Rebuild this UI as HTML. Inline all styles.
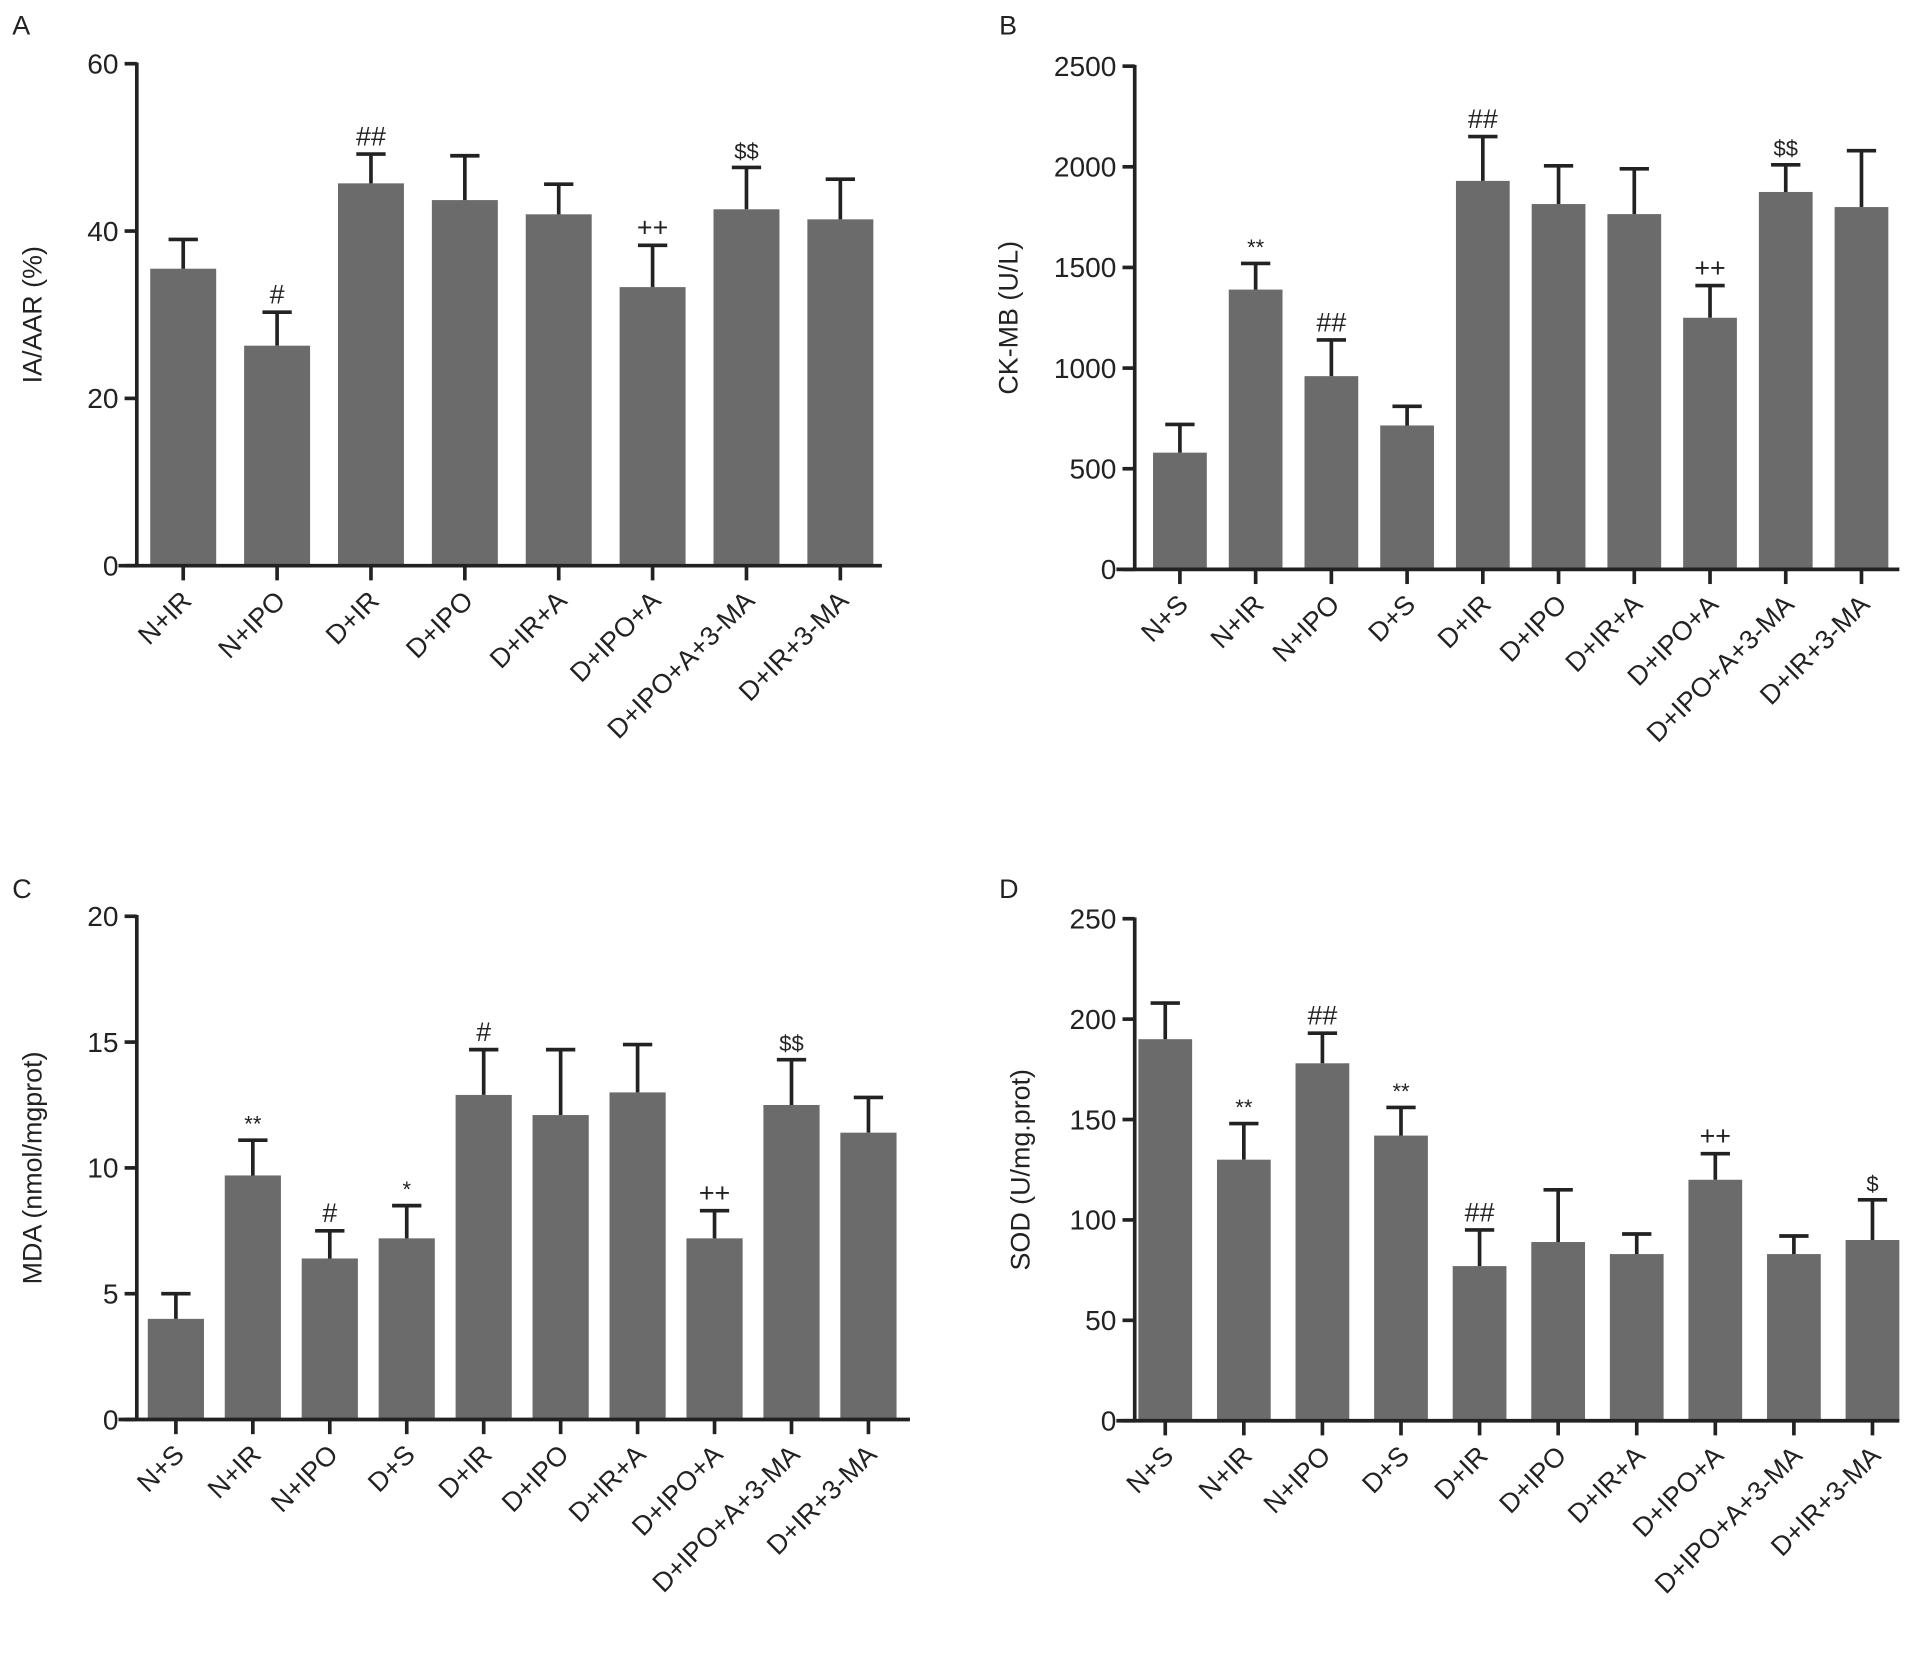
<!DOCTYPE html>
<html><head><meta charset="utf-8"><style>
html,body{margin:0;padding:0;background:#fff}
svg{display:block}
text{font-family:"Liberation Sans",Arial,sans-serif;fill:#222}
</style></head><body>
<svg id="fig" width="1914" height="1653" viewBox="0 0 1567 1353" xmlns="http://www.w3.org/2000/svg"></svg>
<script>
const catsA = ["N+IR","N+IPO","D+IR","D+IPO","D+IR+A","D+IPO+A","D+IPO+A+3-MA","D+IR+3-MA"];
const cats10 = ["N+S","N+IR","N+IPO","D+S","D+IR","D+IPO","D+IR+A","D+IPO+A","D+IPO+A+3-MA","D+IR+3-MA"];
const valsA = [35.5,26.3,45.7,43.7,42,33.3,42.6,41.4];
const errA = [3.5,4,3.5,5.3,3.6,5,5,4.8];
const sigA = ["","#","##","","","++","$$",""];
const ticksA = [0,20,40,60];
const valsB = [580,1390,960,715,1930,1815,1765,1250,1875,1800];
const errB = [140,130,180,95,220,190,225,160,135,280];
const sigB = ["","**","##","","##","","","++","$$",""];
const ticksB = [0,500,1000,1500,2000,2500];
const valsC = [4,9.7,6.4,7.2,12.9,12.1,13,7.2,12.5,11.4];
const errC = [1,1.4,1.1,1.3,1.8,2.6,1.9,1.1,1.8,1.4];
const sigC = ["","**","#","*","#","","","++","$$",""];
const ticksC = [0,5,10,15,20];
const valsD = [190,130,178,142,77,89,83,120,83,90];
const errD = [18,18,15,14,18,26,10,13,9,20];
const sigD = ["","**","##","**","##","","","++","","$"];
const ticksD = [0,50,100,150,200,250];

const NS="http://www.w3.org/2000/svg";
const svg=document.getElementById('fig');
function mk(tag,attrs,parent){const e=document.createElementNS(NS,tag);for(const k in attrs)e.setAttribute(k,attrs[k]);(parent||svg).appendChild(e);return e;}

function panel(id,letter,lx,ly,cats,vals,errs,sigs,ticks,ymax,title,ax,yTop,yBot,xEnd,c0,c1,bw){
  const g=mk('g',{});
  
  
  const y=v=>yBot-(v/ymax)*(yBot-yTop);
  const n=cats.length;
  const x=i=>c0+i*(c1-c0)/(n-1);
  const L=mk('text',{x:lx,y:ly,'font-size':22},g);L.textContent=letter;
  
  
  for(let i=0;i<n;i++){
    const top=y(vals[i]), et=y(vals[i]+errs[i]);
    const r=mk('rect',{x:x(i)-bw/2,y:top,width:bw,height:yBot-top,fill:'#6b6b6b'},g);
    
    
    const eb=mk('path',{d:`M${x(i)} ${top} V${et} M${x(i)-12} ${et} H${x(i)+12}`,stroke:'#222','stroke-width':3,fill:'none'},g);
    
    
    if(sigs[i]){
      const small=sigs[i].includes('*')||sigs[i].includes('$');
      const s=mk('text',{x:x(i),y:et-7,'text-anchor':'middle','font-size':small?18:22},g);s.textContent=sigs[i];
      
      
    }
    const tk=mk('line',{x1:x(i),x2:x(i),y1:yBot,y2:yBot+12,stroke:'#222','stroke-width':3},g);
    
    
    const t=mk('text',{x:x(i)+8,y:yBot+30,'text-anchor':'end','font-size':22,transform:`rotate(-45 ${x(i)+8} ${yBot+30})`},g);t.textContent=cats[i];
    
    
  }
  const axl=mk('path',{d:`M${ax} ${yTop-1} V${yBot} M${ax-15} ${yBot} H${xEnd}`,stroke:'#222','stroke-width':3,fill:'none'},g);
  
  
  ticks.forEach(v=>{
    const tl=mk('line',{x1:ax-10,x2:ax,y1:y(v),y2:y(v),stroke:'#222','stroke-width':3},g);
    
    
    const tt=mk('text',{x:ax-15,y:y(v)+8,'text-anchor':'end','font-size':23},g);tt.textContent=v;
    
    
  });
  const tx=ax-(ticks[ticks.length-1]>=1000?96:ticks[ticks.length-1]>=100?86:78);
  const yt=mk('text',{x:tx,y:(yTop+yBot)/2,'text-anchor':'middle','font-size':22,transform:`rotate(-90 ${tx} ${(yTop+yBot)/2})`},g);yt.textContent=title;
  
  
}
panel('a','A',10,28,catsA,valsA,errA,sigA,ticksA,60,'IA/AAR (%)',112,52,463,722,150,688,54);
panel('b','B',818,28,cats10,valsB,errB,sigB,ticksB,2500,'CK-MB (U/L)',929,54,466,1555,966,1524,44);
panel('c','C',10,735,cats10,valsC,errC,sigC,ticksC,20,'MDA (nmol/mgprot)',112,750,1162,745,144,711,46);
panel('d','D',818,735,cats10,valsD,errD,sigD,ticksD,250,'SOD (U/mg.prot)',929,752,1163,1555,954,1533,44);
</script>
</body></html>
